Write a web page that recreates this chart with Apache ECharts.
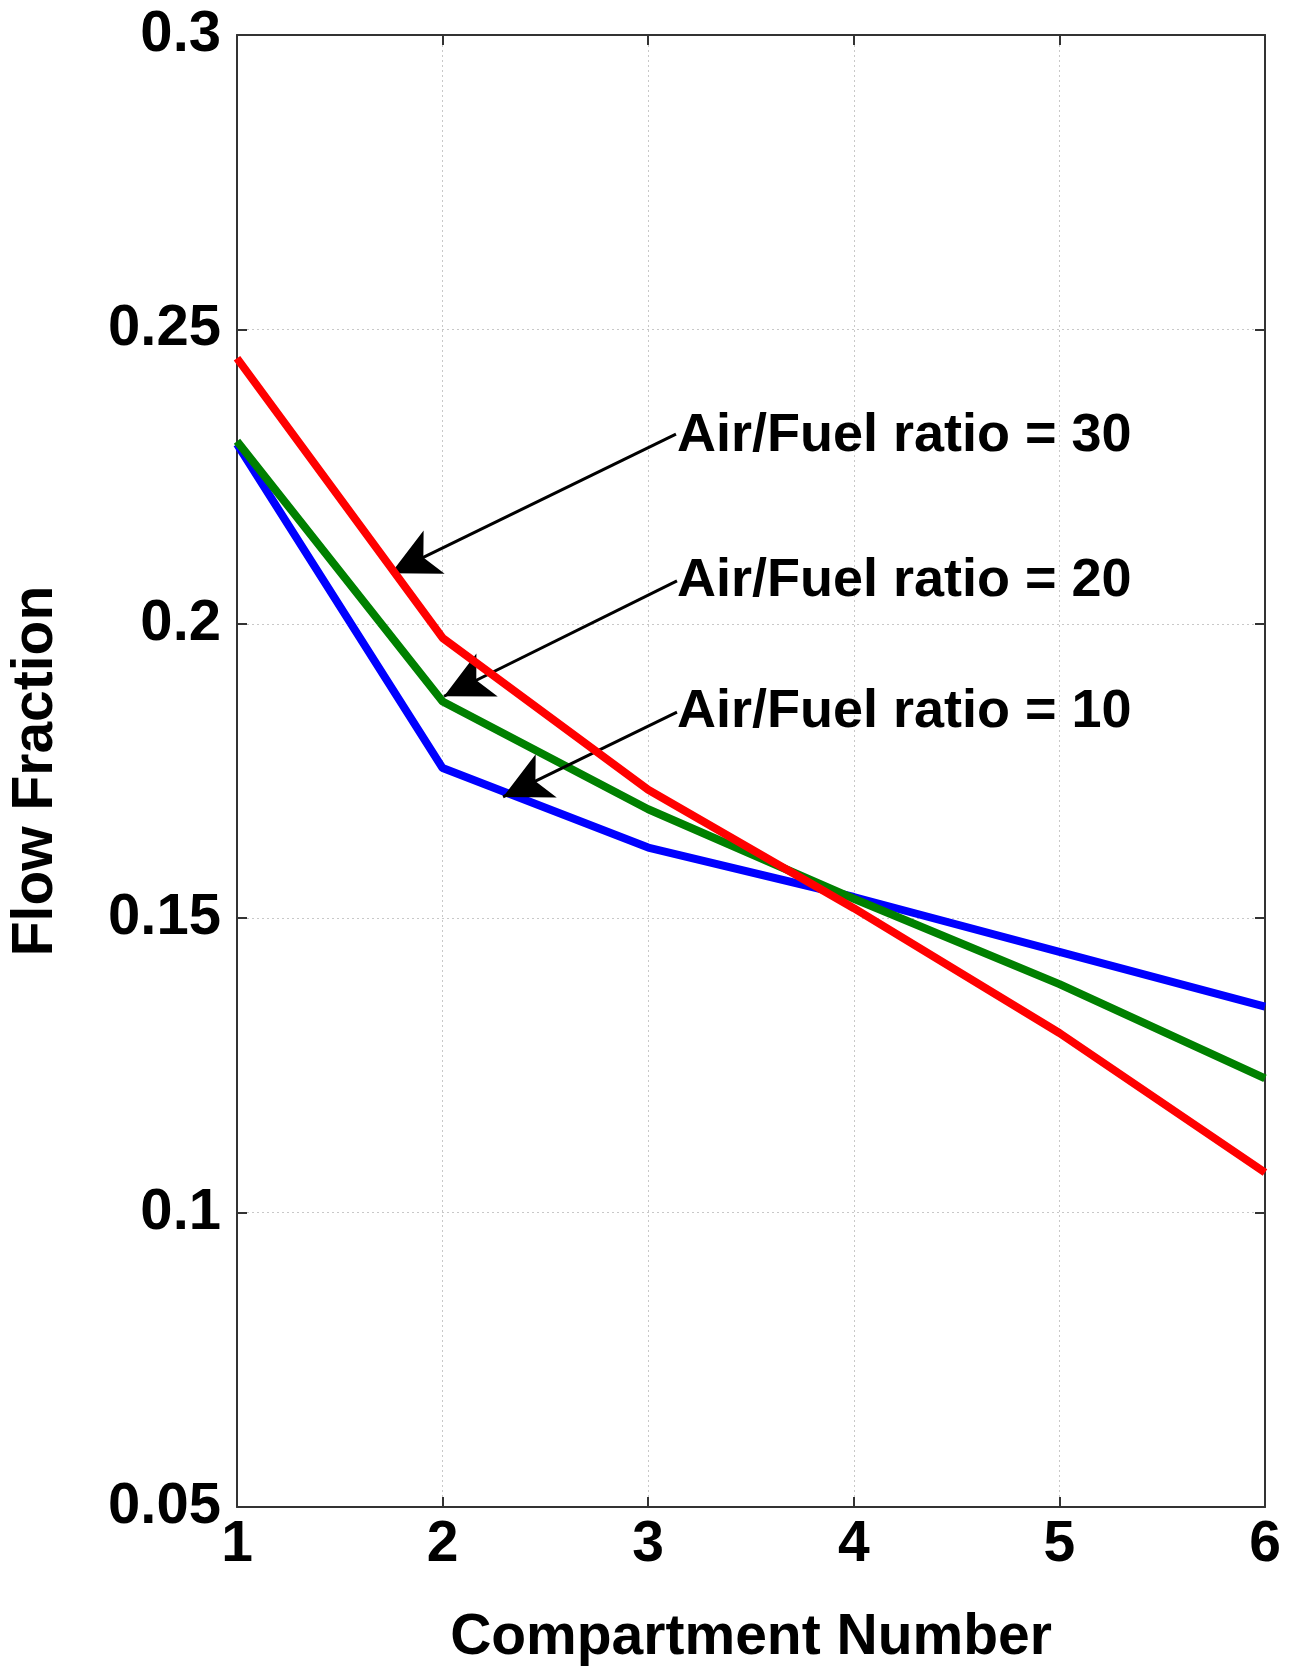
<!DOCTYPE html>
<html>
<head>
<meta charset="utf-8">
<script src="https://cdn.jsdelivr.net/npm/echarts@6/dist/echarts.min.js"></script>
<style>
html,body{margin:0;padding:0;background:#fff;}
#chart{width:1291px;height:1679px;}
</style>
</head>
<body>
<div id="chart"></div>
<script>
// Data
const compartments = [1, 2, 3, 4, 5, 6];
const af30 = [0.2451, 0.1976, 0.1718, 0.1517, 0.1305, 0.1068];
const af20 = [0.2310, 0.1868, 0.1685, 0.1533, 0.1388, 0.1228];
const af10 = [0.2305, 0.1755, 0.1620, 0.1536, 0.1443, 0.1350];
const yTicks = [0.05, 0.1, 0.15, 0.2, 0.25, 0.3];
const annotationTexts = ['Air/Fuel ratio = 30', 'Air/Fuel ratio = 20', 'Air/Fuel ratio = 10'];
const annotationAnchors = [[3.14, 0.2319], [3.14, 0.2073], [3.14, 0.1850]];
const arrowStarts = [[3.135, 0.2322], [3.14, 0.2073], [3.14, 0.1850]];
const arrowTips = [[1.749, 0.2086], [2.007, 0.1877], [2.294, 0.1706]];

const FONT = '"Liberation Sans", Arial, Helvetica, sans-serif';
const pair = (xs, ys) => xs.map((x, i) => [x, ys[i]]);

const chart = echarts.init(document.getElementById('chart'));
const frameColor = '#333';
const gridLine = {show: true, lineStyle: {color: '#c8c8c8', type: [2, 3], width: 1}};

chart.setOption({
  animation: false,
  backgroundColor: '#fff',
  grid: {left: 237, right: 26, top: 35, bottom: 172, containLabel: false, outerBoundsMode: 'none'},
  xAxis: [{
    type: 'value', min: 1, max: 6, interval: 1,
    name: 'Compartment Number', nameLocation: 'middle', nameGap: 103,
    nameTextStyle: {fontFamily: FONT, fontWeight: 'bold', fontSize: 57, color: '#000'},
    axisLine: {show: true, lineStyle: {color: frameColor, width: 2}},
    axisTick: {show: true, inside: true, length: 10, lineStyle: {color: frameColor, width: 2}},
    axisLabel: {fontFamily: FONT, fontWeight: 'bold', fontSize: 57, color: '#000', margin: 10},
    splitLine: gridLine
  }, {
    type: 'value', min: 1, max: 6, interval: 1, position: 'top',
    axisLine: {show: true, lineStyle: {color: frameColor, width: 2}},
    axisTick: {show: true, inside: true, length: 10, lineStyle: {color: frameColor, width: 2}},
    axisLabel: {show: false}, splitLine: {show: false}
  }],
  yAxis: [{
    type: 'value', min: 0.05, max: 0.3, interval: 0.05,
    name: 'Flow Fraction', nameLocation: 'middle', nameGap: 172, nameRotate: 90,
    nameTextStyle: {fontFamily: FONT, fontWeight: 'bold', fontSize: 57, color: '#000'},
    axisLine: {show: true, lineStyle: {color: frameColor, width: 2}},
    axisTick: {show: true, inside: true, length: 10, lineStyle: {color: frameColor, width: 2}},
    axisLabel: {fontFamily: FONT, fontWeight: 'bold', fontSize: 58, color: '#000', margin: 16,
      formatter: v => String(parseFloat(v.toFixed(2)))},
    splitLine: gridLine
  }, {
    type: 'value', min: 0.05, max: 0.3, interval: 0.05, position: 'right',
    axisLine: {show: true, lineStyle: {color: frameColor, width: 2}},
    axisTick: {show: true, inside: true, length: 10, lineStyle: {color: frameColor, width: 2}},
    axisLabel: {show: false}, splitLine: {show: false}
  }],
  series: [
    {name: 'Air/Fuel ratio = 10', type: 'line', data: pair(compartments, af10), symbol: 'none',
     lineStyle: {color: '#0000ff', width: 8}, z: 3},
    {name: 'Air/Fuel ratio = 20', type: 'line', data: pair(compartments, af20), symbol: 'none',
     lineStyle: {color: '#008000', width: 8}, z: 4},
    {name: 'Air/Fuel ratio = 30', type: 'line', data: pair(compartments, af30), symbol: 'none',
     lineStyle: {color: '#ff0000', width: 8}, z: 5},
    {name: 'annotations', type: 'scatter', symbolSize: 0, z: 10,
     itemStyle: {opacity: 1, color: '#000'},
     data: annotationAnchors.map((p, i) => ({value: p, label: {formatter: annotationTexts[i]}})),
     label: {show: true, position: 'right', distance: 0, fontFamily: FONT, fontWeight: 'bold',
       fontSize: 54, color: '#000', opacity: 1, textBorderWidth: 0},
     markLine: {
       silent: true, symbol: ['none', 'arrow'], symbolSize: [36, 48], precision: 4,
       lineStyle: {color: '#000', width: 3, type: 'solid', opacity: 1},
       itemStyle: {color: '#000', opacity: 1},
       label: {show: false},
       data: arrowStarts.map((s, i) => [{coord: s}, {coord: arrowTips[i]}])
     }}
  ]
});
</script>
</body>
</html>
